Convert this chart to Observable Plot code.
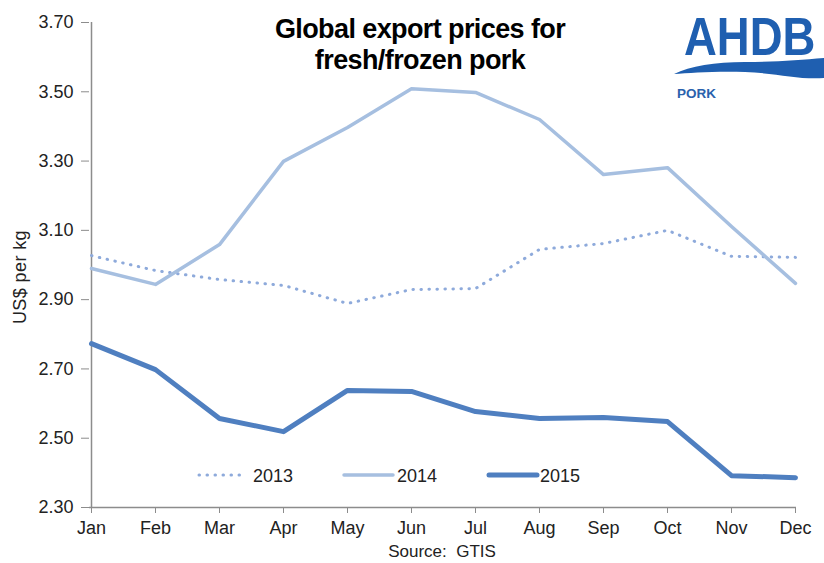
<!DOCTYPE html>
<html><head><meta charset="utf-8">
<script src="https://cdn.jsdelivr.net/npm/d3@7"></script>
<script src="https://cdn.jsdelivr.net/npm/@observablehq/plot@0.6"></script>
<style>
body{margin:0;background:#fff;font-family:"Liberation Sans",Arial,sans-serif;}
#wrap{position:relative;width:824px;height:563px;overflow:hidden;}
.abs{position:absolute;}
</style></head><body>
<div id="wrap"></div>
<script>
const months = ["Jan","Feb","Mar","Apr","May","Jun","Jul","Aug","Sep","Oct","Nov","Dec"];
const v2013 = [3.027,2.984,2.958,2.941,2.889,2.929,2.932,3.045,3.062,3.100,3.025,3.022];
const v2014 = [2.990,2.944,3.059,3.299,3.397,3.509,3.498,3.420,3.261,3.281,3.111,2.947];
const v2015 = [2.773,2.698,2.557,2.519,2.638,2.635,2.577,2.557,2.560,2.548,2.392,2.386];
const yTicks = [2.30,2.50,2.70,2.90,3.10,3.30,3.50,3.70];
const seriesNames = ["2013","2014","2015"];

const rows = (vals, s) => months.map((m,i)=>({month:m, value:vals[i], series:s}));
const d13 = rows(v2013,"2013"), d14 = rows(v2014,"2014"), d15 = rows(v2015,"2015");

const chart = Plot.plot({
  width:824, height:563,
  marginLeft:89, marginRight:28, marginTop:22, marginBottom:56,
  style:{fontFamily:"'Liberation Sans', Arial, sans-serif", fontSize:"18px", color:"#222", background:"#fff"},
  x:{type:"point", domain:months, padding:0, label:null},
  y:{domain:[2.30,3.70], label:null},
  marks:[
    Plot.ruleY([2.30],{stroke:"#8c8c8c", strokeWidth:1.5}),
    Plot.ruleX(["Jan"],{stroke:"#8c8c8c", strokeWidth:1.5}),
    Plot.axisY({ticks:yTicks, tickFormat:d=>d.toFixed(2), tickSize:8, tickPadding:8, stroke:"#8c8c8c", fill:"#222", fontSize:18, label:null}),
    Plot.axisX({tickSize:6, tickPadding:8, stroke:"#8c8c8c", fill:"#222", fontSize:18, label:null}),
    Plot.line(d13,{x:"month", y:"value", stroke:"#8eaadb", strokeWidth:3, strokeDasharray:"0.5 7.5", strokeLinecap:"round"}),
    Plot.line(d14,{x:"month", y:"value", stroke:"#a6bfe0", strokeWidth:3.5}),
    Plot.line(d15,{x:"month", y:"value", stroke:"#4f7fc0", strokeWidth:5})
  ]
});
const wrap = document.getElementById("wrap");
chart.style.position="absolute"; chart.style.left="0"; chart.style.top="0";
wrap.appendChild(chart);

// title
const t = document.createElement("div");
t.className="abs";
t.style.cssText="left:170px;top:14px;width:500px;text-align:center;font-weight:bold;font-size:27px;line-height:31px;color:#000;letter-spacing:-0.6px;";
t.innerHTML="Global export prices for<br>fresh/frozen pork";
wrap.appendChild(t);

// y label
const yl = document.createElement("div");
yl.className="abs";
yl.style.cssText="left:-40px;top:267px;width:120px;text-align:center;font-size:18px;line-height:20px;color:#222;letter-spacing:0.4px;transform:rotate(-90deg);";
yl.textContent="US$ per kg";
wrap.appendChild(yl);

// source
const src = document.createElement("div");
src.className="abs";
src.style.cssText="left:342px;top:542px;width:200px;text-align:center;font-size:17px;line-height:20px;color:#222;white-space:pre;";
src.textContent="Source:  GTIS";
wrap.appendChild(src);

// legend
const leg = document.createElementNS("http://www.w3.org/2000/svg","svg");
leg.setAttribute("width","824"); leg.setAttribute("height","563");
leg.style.cssText="position:absolute;left:0;top:0;";
const styles = [
  {x1:199,x2:243,stroke:"#8eaadb",w:3,dash:"0.5 7.5"},
  {x1:344,x2:393,stroke:"#a6bfe0",w:3.5,dash:null},
  {x1:489,x2:537,stroke:"#4f7fc0",w:5,dash:null}
];
seriesNames.forEach((n,i)=>{
  const s=styles[i];
  const l=document.createElementNS(leg.namespaceURI,"line");
  l.setAttribute("x1",s.x1);l.setAttribute("x2",s.x2);l.setAttribute("y1",475);l.setAttribute("y2",475);
  l.setAttribute("stroke",s.stroke);l.setAttribute("stroke-width",s.w);l.setAttribute("stroke-linecap","round");
  if(s.dash) l.setAttribute("stroke-dasharray",s.dash);
  leg.appendChild(l);
  const tx=document.createElementNS(leg.namespaceURI,"text");
  tx.setAttribute("x",[253,397,540][i]);tx.setAttribute("y",481.5);
  tx.setAttribute("font-size","18");tx.setAttribute("fill","#222");
  tx.setAttribute("font-family","'Liberation Sans', Arial, sans-serif");
  tx.textContent=n; leg.appendChild(tx);
});
// logo
const logoText=document.createElementNS(leg.namespaceURI,"text");
logoText.setAttribute("x",0);logoText.setAttribute("y",0);
logoText.setAttribute("transform","translate(684,55) scale(1,1.17)");
logoText.setAttribute("font-size","45.5");logoText.setAttribute("font-weight","bold");
logoText.setAttribute("fill","#1f5fb0");
logoText.setAttribute("font-family","'Liberation Sans', Arial, sans-serif");
logoText.textContent="AHDB"; leg.appendChild(logoText);
const wave=document.createElementNS(leg.namespaceURI,"path");
wave.setAttribute("d","M674,74 C690,66 715,62 745,62 C775,62 800,60 824,58 L824,78 C800,80 775,73 745,72 C715,71 690,73 674,74 Z");
wave.setAttribute("fill","#1f5fb0"); leg.appendChild(wave);
const pork=document.createElementNS(leg.namespaceURI,"text");
pork.setAttribute("x",677);pork.setAttribute("y",98);
pork.setAttribute("font-size","13.5");pork.setAttribute("font-weight","bold");
pork.setAttribute("fill","#2a62ad");
pork.setAttribute("font-family","'Liberation Sans', Arial, sans-serif");
pork.textContent="PORK"; leg.appendChild(pork);
wrap.appendChild(leg);
</script>
</body></html>
